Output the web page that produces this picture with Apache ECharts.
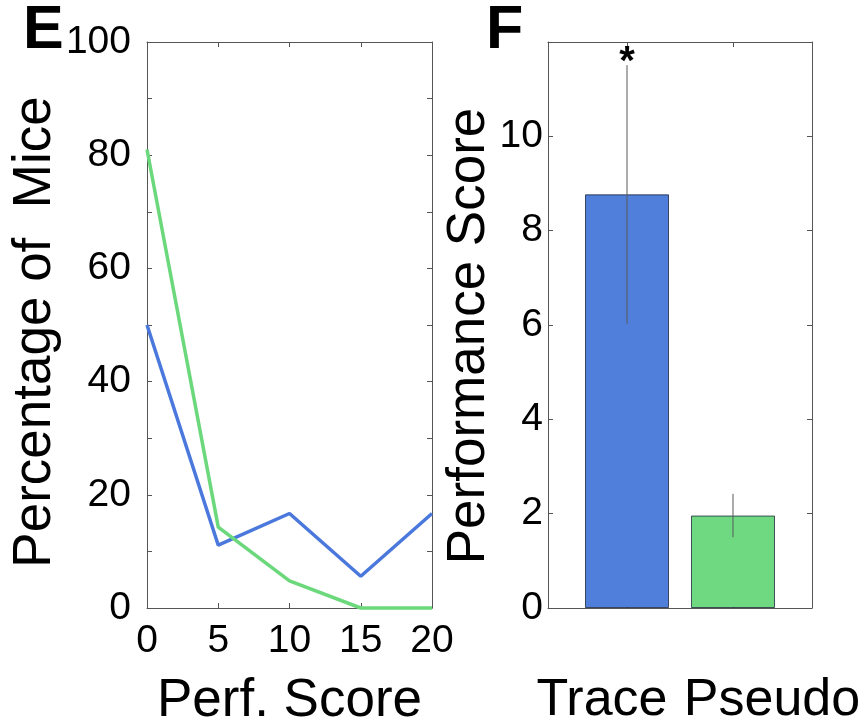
<!DOCTYPE html>
<html>
<head>
<meta charset="utf-8">
<script src="https://cdn.jsdelivr.net/npm/echarts@6/dist/echarts.min.js"></script>
<style>
  html, body { margin: 0; padding: 0; background: #fff; }
  #chart { width: 866px; height: 724px; }
</style>
</head>
<body>
<div id="chart"></div>
<script>
// Panel E: distribution of performance scores
const scoreBins = [0, 5, 10, 15, 20];
const traceMicePct = [50, 11.1, 16.7, 5.6, 16.7];
const pseudoMicePct = [81, 14.3, 4.8, 0, 0];

// Panel F: mean performance score per group
const groups = ['Trace', 'Pseudo'];
const groupPos = [1, 2];
const perfMean = [8.77, 1.96];
const perfSem = [2.74, 0.46];
const significance = ['*', ''];

const blue = '#4f7edb';
const green = '#6fd981';
const lineBlue = '#4a78dc';
const lineGreen = '#6bd87c';
const axisColor = '#555';
const font = 'Liberation Sans, Arial, sans-serif';

const chart = echarts.init(document.getElementById('chart'), null, { renderer: 'canvas' });

const tickStyle = { show: true, inside: true, length: 5, lineStyle: { color: axisColor, width: 1 } };
const lineStyle = { show: true, lineStyle: { color: axisColor, width: 1 } };
const tickLabel = { color: '#000', fontFamily: font, fontSize: 39 };
const nameStyle = { color: '#000', fontFamily: font, fontSize: 53 };

function boxAxis(extra) {
  return Object.assign({
    axisLine: Object.assign({ onZero: false }, lineStyle),
    axisTick: tickStyle,
    splitLine: { show: false },
    axisLabel: { show: false }
  }, extra);
}

const option = {
  animation: false,
  backgroundColor: '#fff',
  grid: [
    { left: 147, top: 42, width: 285, height: 566, outerBoundsMode: 'none', containLabel: false },
    { left: 548, top: 42, width: 264, height: 566, outerBoundsMode: 'none', containLabel: false }
  ],
  xAxis: [
    boxAxis({
      gridIndex: 0, type: 'value', min: 0, max: 20, interval: 5, position: 'bottom',
      axisLabel: Object.assign({ show: true, margin: 14 }, tickLabel),
      name: 'Perf. Score', nameLocation: 'middle', nameGap: 67, nameTextStyle: nameStyle
    }),
    boxAxis({ gridIndex: 0, type: 'value', min: 0, max: 20, interval: 5, position: 'top' }),
    boxAxis({
      gridIndex: 1, type: 'value', min: 0.2547, max: 2.7453, position: 'bottom',
      axisTick: Object.assign({ customValues: groupPos }, tickStyle),
      axisLabel: Object.assign({
        show: true, margin: 67, customValues: groupPos,
        formatter: function (v) {
          const i = groupPos.indexOf(v);
          return i === 0 ? '{a|' + groups[0] + '}' : '{b|' + groups[1] + '}';
        },
        rich: {
          a: { fontFamily: font, fontSize: 52, color: '#000', padding: [0, 50, 0, 0] },
          b: { fontFamily: font, fontSize: 52, color: '#000', padding: [0, 0, 0, 78] }
        }
      }, tickLabel)
    }),
    boxAxis({
      gridIndex: 1, type: 'value', min: 0.2547, max: 2.7453, position: 'top',
      axisTick: Object.assign({ customValues: groupPos }, tickStyle)
    })
  ],
  yAxis: [
    boxAxis({
      gridIndex: 0, type: 'value', min: 0, max: 100, interval: 10, position: 'left',
      axisLabel: Object.assign({
        show: true, margin: 16,
        formatter: function (v) { return v % 20 === 0 ? String(v) : ''; }
      }, tickLabel),
      name: 'Percentage of  Mice', nameLocation: 'middle', nameGap: 78,
      nameTextStyle: Object.assign({ padding: [0, 14, 0, 0] }, nameStyle)
    }),
    boxAxis({ gridIndex: 0, type: 'value', min: 0, max: 100, interval: 10, position: 'right' }),
    boxAxis({
      gridIndex: 1, type: 'value', min: 0, max: 12, interval: 2, position: 'left',
      axisLabel: Object.assign({
        show: true, margin: 5,
        formatter: function (v) { return v <= 10 ? String(v) : ''; }
      }, tickLabel),
      name: 'Performance Score', nameLocation: 'middle', nameGap: 36,
      nameTextStyle: Object.assign({ padding: [0, 22, 0, 0] }, nameStyle)
    }),
    boxAxis({ gridIndex: 1, type: 'value', min: 0, max: 12, interval: 2, position: 'right' })
  ],
  graphic: [
    { type: 'text', left: 23, top: 1, style: { text: 'E', fontFamily: font, fontSize: 61, fontWeight: 'bold', fill: '#000' } },
    { type: 'text', left: 486, top: 1, style: { text: 'F', fontFamily: font, fontSize: 61, fontWeight: 'bold', fill: '#000' } }
  ],
  series: [
    {
      type: 'line', xAxisIndex: 0, yAxisIndex: 0, clip: false, symbol: 'none',
      lineStyle: { color: lineBlue, width: 3.5 },
      data: scoreBins.map((x, i) => [x, traceMicePct[i]])
    },
    {
      type: 'line', xAxisIndex: 0, yAxisIndex: 0, clip: false, symbol: 'none',
      lineStyle: { color: lineGreen, width: 3.5 },
      data: scoreBins.map((x, i) => [x, pseudoMicePct[i]])
    },
    {
      type: 'bar', xAxisIndex: 2, yAxisIndex: 2, barWidth: 84,
      data: groupPos.map((x, i) => ({
        value: [x, perfMean[i]],
        itemStyle: { color: i === 0 ? blue : green, borderColor: 'rgba(20,30,50,0.75)', borderWidth: 1 }
      }))
    },
    {
      type: 'custom', xAxisIndex: 2, yAxisIndex: 2, clip: false, z: 5,
      data: groupPos.map((x, i) => [x, perfMean[i] - perfSem[i], perfMean[i] + perfSem[i], i]),
      renderItem: function (params, api) {
        const lo = api.coord([api.value(0), api.value(1)]);
        const hi = api.coord([api.value(0), api.value(2)]);
        const idx = api.value(3);
        const children = [{
          type: 'line',
          shape: { x1: lo[0], y1: lo[1], x2: hi[0], y2: hi[1] },
          style: { stroke: '#5a5a5a', lineWidth: 1 }
        }];
        if (significance[idx]) {
          children.push({
            type: 'text',
            style: {
              text: significance[idx], x: hi[0], y: hi[1] - 2,
              align: 'center', verticalAlign: 'middle',
              fontFamily: font, fontSize: 40, fontWeight: 'bold', fill: '#000'
            }
          });
        }
        return { type: 'group', children: children };
      }
    }
  ]
};

chart.setOption(option);
</script>
</body>
</html>
